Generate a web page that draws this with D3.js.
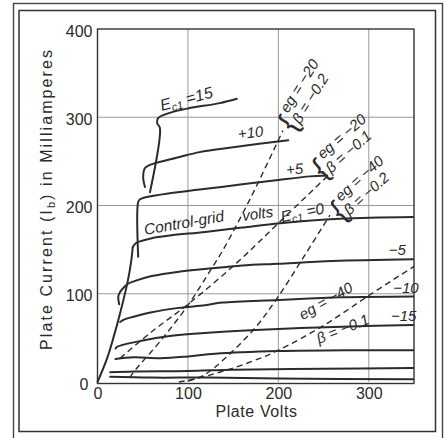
<!DOCTYPE html>
<html><head><meta charset="utf-8">
<script src="https://cdn.jsdelivr.net/npm/d3@7"></script>
<style>body{margin:0;background:#fff}svg{display:block}</style>
</head><body>
<svg id="c" width="444" height="438"></svg>
<script>
// ---- data (plate volts, plate mA) ----
const xTicks = [0, 100, 200, 300];
const yTicks = [0, 100, 200, 300, 400];
const envelope = [[0,0],[10,25],[17,48],[25,78],[33,112],[37,135],[39,153]];
const curveP15 = [[58,215],[69,288],[66,293],[67,299],[80,305],[100,310],[135,316],[154,321]];
const curveP10 = [[52.5,221],[50.5,232],[52.5,242.5],[58,246],[91,255],[113,260.5],[150,266],[211,274]];
const curveP5  = [[45,142],[45,204],[47,207],[52,209],[80,214],[113,218],[160,224],[200,229],[235,233],[254,234]];
const curve0   = [[39,153],[42,157],[46,159],[60,163],[80,166],[119,170],[160,175],[202,180],[268,185],[349,187]];
const curveM5  = [[24,88],[23,97],[25,102],[29,107],[33,111],[40,114],[60,120],[90,125],[119,128],[160,132],[200,134],[260,137],[349,139]];
const curveM10 = [[25,68],[30,71],[40,74],[60,79],[90,84],[119,87],[138,90],[200,93],[270,96],[349,97]];
const curveM15 = [[20,38],[22,40],[50,47],[80,52],[119,55.5],[200,60],[280,63],[349,64.5]];
const curveM20 = [[20,26],[40,28],[70,27],[100,29],[130,32],[200,35],[280,36],[349,36]];
const curveM25 = [[14,11],[40,12],[100,12.5],[150,14],[250,15],[349,16]];
const curveM30 = [[14,6],[60,5],[120,5],[200,4],[349,3]];
const loadA = [[36,5],[39,10],[70,47],[100,87],[127,130],[139,150],[170,210],[205,285]];
const loadB = [[25,27],[60,57],[100,88],[154,135],[200,180],[254,233]];
const loadC = [[100,1],[118,8],[138,24],[174,61],[200,97],[230,145],[257,189]];
const loadD = [[90,0],[110,4],[138,12],[170,23],[200,36],[250,64],[300,98],[350,131]];
const rightLabels = ["\u22125", "\u221210", "\u221215"];
const bracketLabels = [["eg = \u221220", "\u03b2 = \u22120.2"], ["eg = \u221220", "\u03b2 = \u22120.1"], ["eg = \u221240", "\u03b2 = \u22120.2"]];

const svg = d3.select("#c");
const ink = "#2b2b2b";
const x = d3.scaleLinear().domain([0, 350]).range([97.5, 414]);
const y = d3.scaleLinear().domain([0, 400]).range([382, 29]);

// outer frames
svg.append("rect").attr("x",13.5).attr("y",3.5).attr("width",429).attr("height",440)
  .attr("fill","none").attr("stroke","#444").attr("stroke-width",1.4);
svg.append("rect").attr("x",19).attr("y",10.5).attr("width",416.5).attr("height",421)
  .attr("fill","none").attr("stroke","#333").attr("stroke-width",1.5);

// grid
const g = svg.append("g");
g.selectAll(".vg").data(xTicks.slice(1)).enter().append("line")
  .attr("x1",d=>x(d)).attr("x2",d=>x(d)).attr("y1",y(0)).attr("y2",y(400))
  .attr("stroke","#9a9a9a").attr("stroke-width",1);
g.selectAll(".hg").data(yTicks.slice(1,4)).enter().append("line")
  .attr("y1",d=>y(d)).attr("y2",d=>y(d)).attr("x1",x(0)).attr("x2",x(350))
  .attr("stroke","#9a9a9a").attr("stroke-width",1);
// plot box
g.append("rect").attr("x",x(0)).attr("y",y(400)).attr("width",x(350)-x(0)).attr("height",y(0)-y(400)+1.5)
  .attr("fill","none").attr("stroke","#333").attr("stroke-width",1.4);

// axes
const ay = svg.append("g").attr("transform",`translate(${x(0)},2)`)
  .call(d3.axisLeft(y).tickValues(yTicks).tickSize(0).tickPadding(5).tickFormat(d3.format("d")));
ay.select(".domain").remove();
ay.selectAll("text").attr("font-family","Liberation Sans, Arial, sans-serif").attr("font-size",16).attr("fill",ink)
  .attr("dx", d => d === 0 ? -4 : 0);
const ax = svg.append("g").attr("transform",`translate(0,${y(0)})`)
  .call(d3.axisBottom(x).tickValues(xTicks).tickSize(0).tickPadding(6).tickFormat(d3.format("d")));
ax.select(".domain").remove();
ax.selectAll("text").attr("font-family","Liberation Sans, Arial, sans-serif").attr("font-size",16).attr("fill",ink);

// axis titles
svg.append("text").attr("x",256.5).attr("y",417).attr("text-anchor","middle")
  .attr("font-family","Liberation Sans, Arial, sans-serif").attr("font-size",16).attr("letter-spacing",0.6)
  .attr("fill",ink).text("Plate Volts");
const yt = svg.append("text").attr("transform","translate(52,200) rotate(-90)").attr("text-anchor","middle")
  .attr("font-family","Liberation Sans, Arial, sans-serif").attr("font-size",16).attr("fill",ink)
  .attr("textLength",300).attr("lengthAdjust","spacing");
yt.append("tspan").text("Plate Current (I");
yt.append("tspan").attr("font-size",11).attr("dy",3).text("b");
yt.append("tspan").attr("dy",-3).text(") in Milliamperes");

// curves
const line = d3.line().x(d=>x(d[0])).y(d=>y(d[1])).curve(d3.curveCatmullRom.alpha(0.5));
const solid = [envelope, curveP15, curveP10, curveP5, curve0, curveM5, curveM10, curveM15, curveM20, curveM25, curveM30];
svg.append("g").selectAll("path").data(solid).enter().append("path")
  .attr("d", line).attr("fill","none").attr("stroke",ink).attr("stroke-width",2)
  .attr("stroke-linejoin","round").attr("stroke-linecap","round");
const dashed = [loadA, loadB, loadC, loadD];
svg.append("g").selectAll("path").data(dashed).enter().append("path")
  .attr("d", line).attr("fill","none").attr("stroke",ink).attr("stroke-width",1.4)
  .attr("stroke-dasharray","6,4");

// labels
const ff = "Liberation Sans, Arial, sans-serif";
function lab(V, I, ang, size) {
  return svg.append("text").attr("transform",`translate(${x(V)},${y(I)}) rotate(${ang})`)
    .attr("font-family",ff).attr("font-size",size).attr("font-style","italic").attr("fill",ink);
}
function ec1(t, tail) {
  t.append("tspan").text("E");
  t.append("tspan").attr("font-size",11).attr("dy",3).text("c1");
  t.append("tspan").attr("dy",-3).text(tail);
}
ec1(lab(71, 307, -15, 16), " =15");
lab(156, 275, -7, 15).text("+10");
lab(209, 234.6, -5, 15).text("+5");
lab(52.5, 166.6, -10, 15.5).text("Control-grid");
lab(161, 182.4, -8, 15).text("volts");
ec1(lab(204, 181, -12, 15.5), " =0");
const rl = [[322, 144], [327, 101], [324.5, 69]];
rightLabels.forEach((t,i) => lab(rl[i][0], rl[i][1], 0, 15).text(t));
lab(227, 70, -30, 15).text("eg = \u221240");
lab(245, 43, -22, 15).text("\u03b2 = \u22120.1");

const bp = [[210.6, 304, -58], [249, 252, -41], [269, 204, -42]];
bracketLabels.forEach((pair, i) => {
  const gg = svg.append("g").attr("transform",`translate(${x(bp[i][0])},${y(bp[i][1])}) rotate(${bp[i][2]})`)
    .attr("font-family",ff).attr("font-style","italic").attr("fill",ink);
  gg.append("text").attr("x",0).attr("y",0).attr("font-size",15).text(pair[0]);
  gg.append("text").attr("x",-3).attr("y",16).attr("font-size",15).text(pair[1]);
  gg.append("text").attr("x",-13).attr("y",15).attr("font-size",30).attr("font-style","normal")
    .attr("font-weight","300").text("{");
});
</script>
</body></html>
